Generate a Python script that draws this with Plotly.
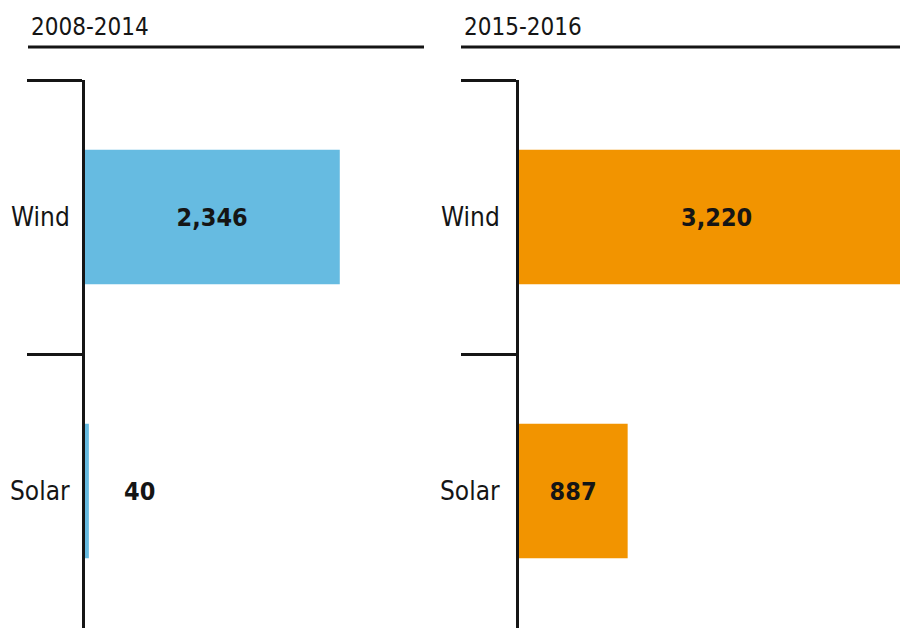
import plotly.graph_objects as go

categories = ["Wind", "Solar"]
values_2008_2014 = [2346, 40]
values_2015_2016 = [3220, 887]
panel_titles = ["2008-2014", "2015-2016"]

FONT = "DejaVu Sans Condensed, Liberation Sans Narrow, sans-serif"
INK = "#151515"
BLUE = "#66BBE1"
ORANGE = "#F29400"

W, H = 900, 628
LABEL_SIZE = 26
TITLE_SIZE = 24
VALUE_SIZE = 25

fig = go.Figure()

fig.add_trace(go.Bar(
    y=categories, x=values_2008_2014, orientation="h",
    marker=dict(color=BLUE, line=dict(width=0)),
    texttemplate="<b>%{x:,}</b>",
    textposition=["inside", "none"],
    insidetextanchor="middle",
    textfont=dict(family=FONT, size=VALUE_SIZE, color=INK),
    xaxis="x", yaxis="y", hoverinfo="skip",
))
fig.add_trace(go.Bar(
    y=categories, x=values_2015_2016, orientation="h",
    marker=dict(color=ORANGE, line=dict(width=0)),
    texttemplate="<b>%{x:,}</b>",
    textposition="inside",
    insidetextanchor="middle",
    textfont=dict(family=FONT, size=VALUE_SIZE, color=INK),
    xaxis="x2", yaxis="y2", hoverinfo="skip",
))

ytop_px = 80
ydom_top = (H - ytop_px) / H
band_px = 274
yrange = [-0.5 + (H - ytop_px) / band_px, -0.5]

yaxis_common = dict(
    type="category", range=yrange, domain=[0, ydom_top],
    showline=True, linecolor=INK, linewidth=3,
    ticks="outside", tickson="boundaries", ticklen=55, tickwidth=3, tickcolor=INK,
    showticklabels=False, showgrid=False, zeroline=False, fixedrange=True,
)
xaxis_common = dict(visible=False, showgrid=False, zeroline=False, fixedrange=True)

fig.update_layout(
    width=W, height=H,
    margin=dict(l=0, r=0, t=0, b=0),
    paper_bgcolor="white", plot_bgcolor="rgba(0,0,0,0)",
    showlegend=False, bargap=0.51,
    xaxis=dict(domain=[84.5 / W, 424 / W], range=[0, 3120], **xaxis_common),
    xaxis2=dict(domain=[518.5 / W, 1.0], range=[0, 3100], **xaxis_common),
    yaxis=dict(anchor="x", **yaxis_common),
    yaxis2=dict(anchor="x2", **yaxis_common),
)

annotations = []
shapes = []
title_x = [29 / W, 462 / W]
line_x = [(28 / W, 424 / W), (461 / W, 1.0)]
for t, tx, (lx0, lx1) in zip(panel_titles, title_x, line_x):
    annotations.append(dict(
        text=t, xref="paper", yref="paper", x=tx, y=(H - 27) / H,
        xanchor="left", yanchor="middle", showarrow=False,
        font=dict(family=FONT, size=TITLE_SIZE, color=INK),
    ))
    shapes.append(dict(
        type="line", xref="paper", yref="paper", x0=lx0, x1=lx1,
        y0=(H - 47) / H, y1=(H - 47) / H, line=dict(color=INK, width=3),
    ))

label_x = [72 / W, 502 / W]
for yref, lx in zip(["y", "y2"], label_x):
    for c in categories:
        annotations.append(dict(
            text=c, xref="paper", yref=yref, x=lx, y=c,
            xanchor="right", yanchor="middle", showarrow=False,
            font=dict(family=FONT, size=LABEL_SIZE, color=INK),
        ))

annotations.append(dict(
    text="<b>{:,}</b>".format(values_2008_2014[1]), xref="x", yref="y",
    x=values_2008_2014[1], y=categories[1], xanchor="left", yanchor="middle",
    xshift=33, showarrow=False, font=dict(family=FONT, size=VALUE_SIZE, color=INK),
))

fig.update_layout(annotations=annotations, shapes=shapes)

fig.write_html(
    "out.html",
    config={"displayModeBar": False, "staticPlot": True},
    post_script="document.body.style.margin='0';document.body.style.overflow='hidden';",
)
